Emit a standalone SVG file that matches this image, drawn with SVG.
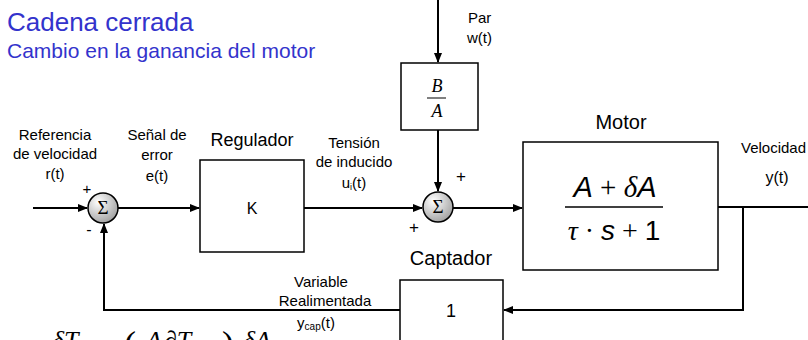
<svg xmlns="http://www.w3.org/2000/svg" width="808" height="340" viewBox="0 0 808 340">
<style>
.t{font-family:"Liberation Sans",Arial,sans-serif;fill:#000}
.lbl{font-size:15px;text-anchor:middle}
.blue{fill:#3333cc;font-family:"Liberation Sans",Arial,sans-serif}
.box{fill:#fff;stroke:#000;stroke-width:1.5}
.ln{fill:none;stroke:#000;stroke-width:2}
.sum{fill:url(#g);stroke:#000;stroke-width:1.5}
.sig{font-family:"Liberation Serif","Times New Roman",serif;font-size:19px;text-anchor:middle;fill:#000}
.m{font-family:"Liberation Serif","Times New Roman",serif;font-style:italic}
.f{font-family:"Liberation Serif","Times New Roman",serif;font-size:26px;font-style:italic}
</style>
<defs>
<radialGradient id="g" cx="0.35" cy="0.3" r="0.8">
<stop offset="0" stop-color="#ffffff"/>
<stop offset="1" stop-color="#9a9a9a"/>
</radialGradient>
<marker id="a" markerWidth="10" markerHeight="8" refX="9" refY="4" orient="auto" markerUnits="userSpaceOnUse">
<path d="M0,0 L10,4 L0,8 z" fill="#000"/>
</marker>
</defs>
<text class="blue" x="7" y="31" font-size="26">Cadena cerrada</text>
<text class="blue" x="7" y="58" font-size="21">Cambio en la ganancia del motor</text>

<g id="connectors">
<path class="ln" d="M33,208 H87" marker-end="url(#a)"/>
<path class="ln" d="M118,208 H199" marker-end="url(#a)"/>
<path class="ln" d="M304,208 H422" marker-end="url(#a)"/>
<path class="ln" d="M438,0 V62" marker-end="url(#a)"/>
<path class="ln" d="M438,130 V191" marker-end="url(#a)"/>
<path class="ln" d="M453,208 H522" marker-end="url(#a)"/>
<path class="ln" d="M718,207 H808"/>
<path class="ln" d="M743,207 V310 H504" marker-end="url(#a)"/>
<path class="ln" d="M400,310 H104 V224" marker-end="url(#a)"/>
</g>

<g id="labels">
<text class="t lbl" x="55" y="140">Referencia</text>
<text class="t lbl" x="55" y="159">de velocidad</text>
<text class="t lbl" x="55" y="179">r(t)</text>
<text class="t lbl" x="157" y="140">Señal de</text>
<text class="t lbl" x="157" y="160">error</text>
<text class="t lbl" x="157" y="181">e(t)</text>
<text class="t lbl" x="354" y="148">Tensión</text>
<text class="t lbl" x="354" y="167">de inducido</text>
<text class="t lbl" x="354" y="188">u<tspan font-size="9" dy="2">i</tspan><tspan dy="-2">(t)</tspan></text>
<text class="t" x="468" y="23" font-size="15">Par</text>
<text class="t" x="467" y="43" font-size="15">w(t)</text>
<text class="t" x="741" y="153" font-size="15">Velocidad</text>
<text class="t" x="777" y="183" font-size="16" text-anchor="middle">y(t)</text>
<text class="t lbl" x="321" y="287">Variable</text>
<text class="t lbl" x="325" y="306" font-size="14.5">Realimentada</text>
<text class="t lbl" x="316" y="328">y<tspan font-size="10" dy="2">cap</tspan><tspan dy="-2">(t)</tspan></text>
<text class="t" x="87" y="194" font-size="15" text-anchor="middle">+</text>
<text class="t" x="89" y="235" font-size="16" text-anchor="middle">-</text>
<text class="t" x="461" y="182" font-size="17" text-anchor="middle">+</text>
<text class="t" x="414" y="233" font-size="17" text-anchor="middle">+</text>
</g>

<g id="sum1">
<circle class="sum" cx="103" cy="208" r="15"/>
<text class="sig" x="103" y="214">Σ</text>
</g>

<g id="regulador">
<text class="t" x="252" y="146" font-size="18" text-anchor="middle">Regulador</text>
<rect class="box" x="200" y="160" width="104" height="92"/>
<text class="t" x="252" y="214" font-size="16" text-anchor="middle">K</text>
</g>

<g id="ba">
<rect class="box" x="401" y="63" width="77" height="67" stroke-width="2"/>
<text class="m" x="437" y="92" font-size="18" text-anchor="middle">B</text>
<line x1="427" y1="98" x2="446" y2="98" stroke="#000" stroke-width="1"/>
<text class="m" x="437" y="117" font-size="18" text-anchor="middle">A</text>
</g>

<g id="sum2">
<circle class="sum" cx="438" cy="207" r="15"/>
<text class="sig" x="438" y="213">Σ</text>
</g>

<g id="motor">
<text class="t" x="621" y="129" font-size="20" text-anchor="middle">Motor</text>
<rect class="box" x="523" y="142" width="195" height="128"/>
<text x="615" y="197" font-size="29" text-anchor="middle"><tspan font-family="Liberation Sans,Arial,sans-serif" font-style="italic">A</tspan><tspan font-family="Liberation Serif,serif"> + </tspan><tspan class="m">δ</tspan><tspan font-family="Liberation Sans,Arial,sans-serif" font-style="italic">A</tspan></text>
<line x1="565" y1="207" x2="663" y2="207" stroke="#000" stroke-width="1.5"/>
<text x="614" y="240" font-size="28" text-anchor="middle"><tspan class="m">τ</tspan><tspan font-family="Liberation Serif,serif"> · </tspan><tspan font-family="Liberation Sans,Arial,sans-serif" font-style="italic">s</tspan><tspan font-family="Liberation Serif,serif"> + </tspan><tspan font-family="Liberation Sans,Arial,sans-serif">1</tspan></text>
</g>

<g id="captador">
<text class="t" x="451" y="265" font-size="20" text-anchor="middle">Captador</text>
<rect class="box" x="400" y="280" width="103" height="80"/>
<text class="t" x="451" y="317" font-size="18" text-anchor="middle">1</text>
</g>

<g id="formula">
<text class="f" x="52" y="349">δT</text>
<text x="124" y="356" font-size="36" font-family="Liberation Serif,serif">(</text>
<text class="f" x="146" y="349">A</text>
<text class="f" x="164" y="349">∂T</text>
<text x="222" y="356" font-size="36" font-family="Liberation Serif,serif">)</text>
<text class="f" x="243" y="349">δA</text>
</g>
</svg>
